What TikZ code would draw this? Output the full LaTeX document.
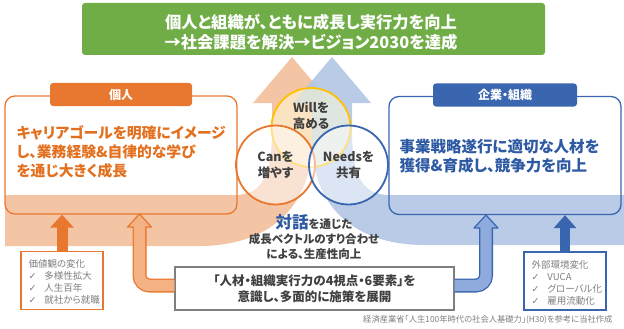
\documentclass[tikz,border=0pt]{standalone}
\usepackage{fontspec}
\setmainfont{Noto Sans CJK JP}[RawFeature=+palt]
\newfontfamily\dv{DejaVu Sans}
\usetikzlibrary{arrows.meta}
\definecolor{gr}{HTML}{70AD47}
\definecolor{orD}{HTML}{E8782F}
\definecolor{orT}{HTML}{E2701F}
\definecolor{orL}{HTML}{F4C5A4}
\definecolor{orM}{HTML}{F4B183}
\definecolor{blD}{HTML}{3A66B0}
\definecolor{blT}{HTML}{2E5AA3}
\definecolor{blL}{HTML}{B0C4E4}
\definecolor{blM}{HTML}{8FAADC}
\definecolor{txt}{HTML}{404040}
\definecolor{gy}{HTML}{7F7F7F}
\definecolor{yl}{HTML}{FFC000}
\tikzset{
  bigbox/.style={rounded corners=10pt, line width=1.3pt, inner sep=0pt, minimum width=232pt, minimum height=118pt},
  tab/.style={rounded corners=3pt, text=white, font=\fontsize{12}{14}\selectfont\bfseries, inner sep=0pt, minimum height=23pt},
  circ/.style={circle, line width=1.8pt, minimum size=79pt, inner sep=0pt},
  ctext/.style={text=txt, font=\fontsize{12.5}{15.5}\selectfont\bfseries, align=center},
  smallbox/.style={fill=white, line width=1.3pt, inner sep=0pt, minimum width=82pt, minimum height=58pt},
  smalltext/.style={text=gy, font=\fontsize{9.5}{12.2}\selectfont, align=left, anchor=north west},
}
\begin{document}
\begin{tikzpicture}[x=1pt,y=-1pt]
\useasboundingbox (0,0) rectangle (624,329);
% big arrows
\fill[orL] (5,195) -- (235,195) .. controls (262,195) and (272,175) .. (272,130) -- (272,103) -- (253,103) -- (292,57) -- (331,103) -- (312,103) -- (312,140) .. controls (312,215) and (260,246) .. (200,246) -- (5,246) -- cycle;
\fill[blL, fill opacity=0.88] (624,195) -- (389,195) .. controls (362,195) and (352,175) .. (352,130) -- (352,103) -- (371,103) -- (332,57) -- (293,103) -- (312,103) -- (312,140) .. controls (312,215) and (364,245) .. (424,245) -- (624,245) -- cycle;
% title
\node[fill=gr, rounded corners=3pt, minimum width=463pt, minimum height=52pt, inner sep=0pt] (title) at (313.5,29) {};
\node[text=white, font=\fontsize{16.3}{20.5}\selectfont\bfseries, align=center] (titletext) at (311,32) {個人と組織が、ともに成長し実行力を向上\\→社会課題を解決→ビジョン2030を達成};
% boxes
\node[bigbox, draw=orD] (pbox) at (121,155) {};
\node[bigbox, draw=blD] (cbox) at (505,155.5) {};
\node[tab, fill=orD, minimum width=142pt] (ptab) at (121,94.5) {個人};
\node[tab, fill=blD, minimum width=144pt] (ctab) at (505,95) {企業・組織};
\node[text=orT, font=\fontsize{14.8}{19}\selectfont\bfseries, align=left, anchor=west] (ptext) at (13,152) {キャリアゴールを明確にイメージ\\し、業務経験\&自律的な学び\\を通じ大きく成長};
\node[text=blT, font=\fontsize{15.5}{19}\selectfont\bfseries, align=left, anchor=west] (ctext) at (396,156.5) {事業戦略遂行に適切な人材を\\獲得\&育成し、競争力を向上};
% circles
\node[circ, draw=yl, fill=yellow!15, fill opacity=0.55] (will) at (311,127.5) {};
\node[circ, draw=orD, fill=white, fill opacity=0.5] (can) at (275.5,165) {};
\node[circ, draw=blD, fill=white, fill opacity=0.5] (needs) at (348.5,165) {};
\node[ctext] (willt) at (311,116) {Willを\\高める};
\node[ctext] (cant) at (275.5,165) {Canを\\増やす};
\node[ctext] (needst) at (348.5,165) {Needsを\\共有};
% dialogue text
\node[text=txt, font=\fontsize{11.5}{15}\selectfont\bfseries, align=center] (dial) at (314,237) {{\color{blT}\fontsize{16.5}{15}\selectfont 対話}を通じた\\成長ベクトルのすり合わせ\\による、生産性向上};
% middle box
\node[draw=gy, fill=white, line width=1.2pt, minimum width=279pt, minimum height=43pt, inner sep=0pt] (mid) at (314.5,288.5) {};
\node[text=txt, font=\fontsize{12.5}{15.5}\selectfont\bfseries, align=center] (midt) at (314.5,289) {「人材・組織実行力の4視点・6要素」を\\意識し、多面的に施策を展開};
% hollow elbow arrows
\coordinate (ot) at (139.5,214);
\coordinate (bt) at (486,215);
\draw[orD, line width=14pt, rounded corners=10pt] ([yshift=3pt]mid.west) -| ([yshift=-12pt]ot);
\filldraw[fill=orM, draw=orD, line width=1.2pt, line join=round] (ot) -- ++(12,13) -- ++(-24,0) -- cycle;
\draw[orM, line width=11.4pt, rounded corners=10pt] ([yshift=3pt]mid.west) -| ([yshift=-10.5pt]ot);
\draw[blD, line width=14pt, rounded corners=10pt] ([yshift=3pt]mid.east) -| ([yshift=-12pt]bt);
\filldraw[fill=blM, draw=blD, line width=1.2pt, line join=round] (bt) -- ++(12,13) -- ++(-24,0) -- cycle;
\draw[blM, line width=11.4pt, rounded corners=10pt] ([yshift=3pt]mid.east) -| ([yshift=-10.5pt]bt);
% small boxes
\node[smallbox, draw=orD] (pv) at (62,280.5) {};
\node[smallbox, draw=blD] (ev) at (565,281) {};
\node[smalltext] (pvt) at (25,255.5) {価値観の変化\\{\dv ✓}\hspace{8pt}多様性拡大\\{\dv ✓}\hspace{8pt}人生百年\\{\dv ✓}\hspace{8pt}就社から就職};
\node[smalltext] (evt) at (528,256.5) {外部環境変化\\{\dv ✓}\hspace{8pt}VUCA\\{\dv ✓}\hspace{8pt}グローバル化\\{\dv ✓}\hspace{8pt}雇用流動化};
% solid arrows
\draw[orD, line width=11pt, -{Triangle[width=23pt,length=13pt]}] (pv.north) -- (pv.north |- pbox.south);
\draw[blD, line width=10pt, -{Triangle[width=22pt,length=13pt]}] (ev.north) -- (ev.north |- cbox.south);
% footnote
\node[text=gy, font=\fontsize{8.3}{10}\selectfont, anchor=east] (src) at (616,320) {経済産業省「人生100年時代の社会人基礎力」(H30)を参考に当社作成};
\end{tikzpicture}
\end{document}
